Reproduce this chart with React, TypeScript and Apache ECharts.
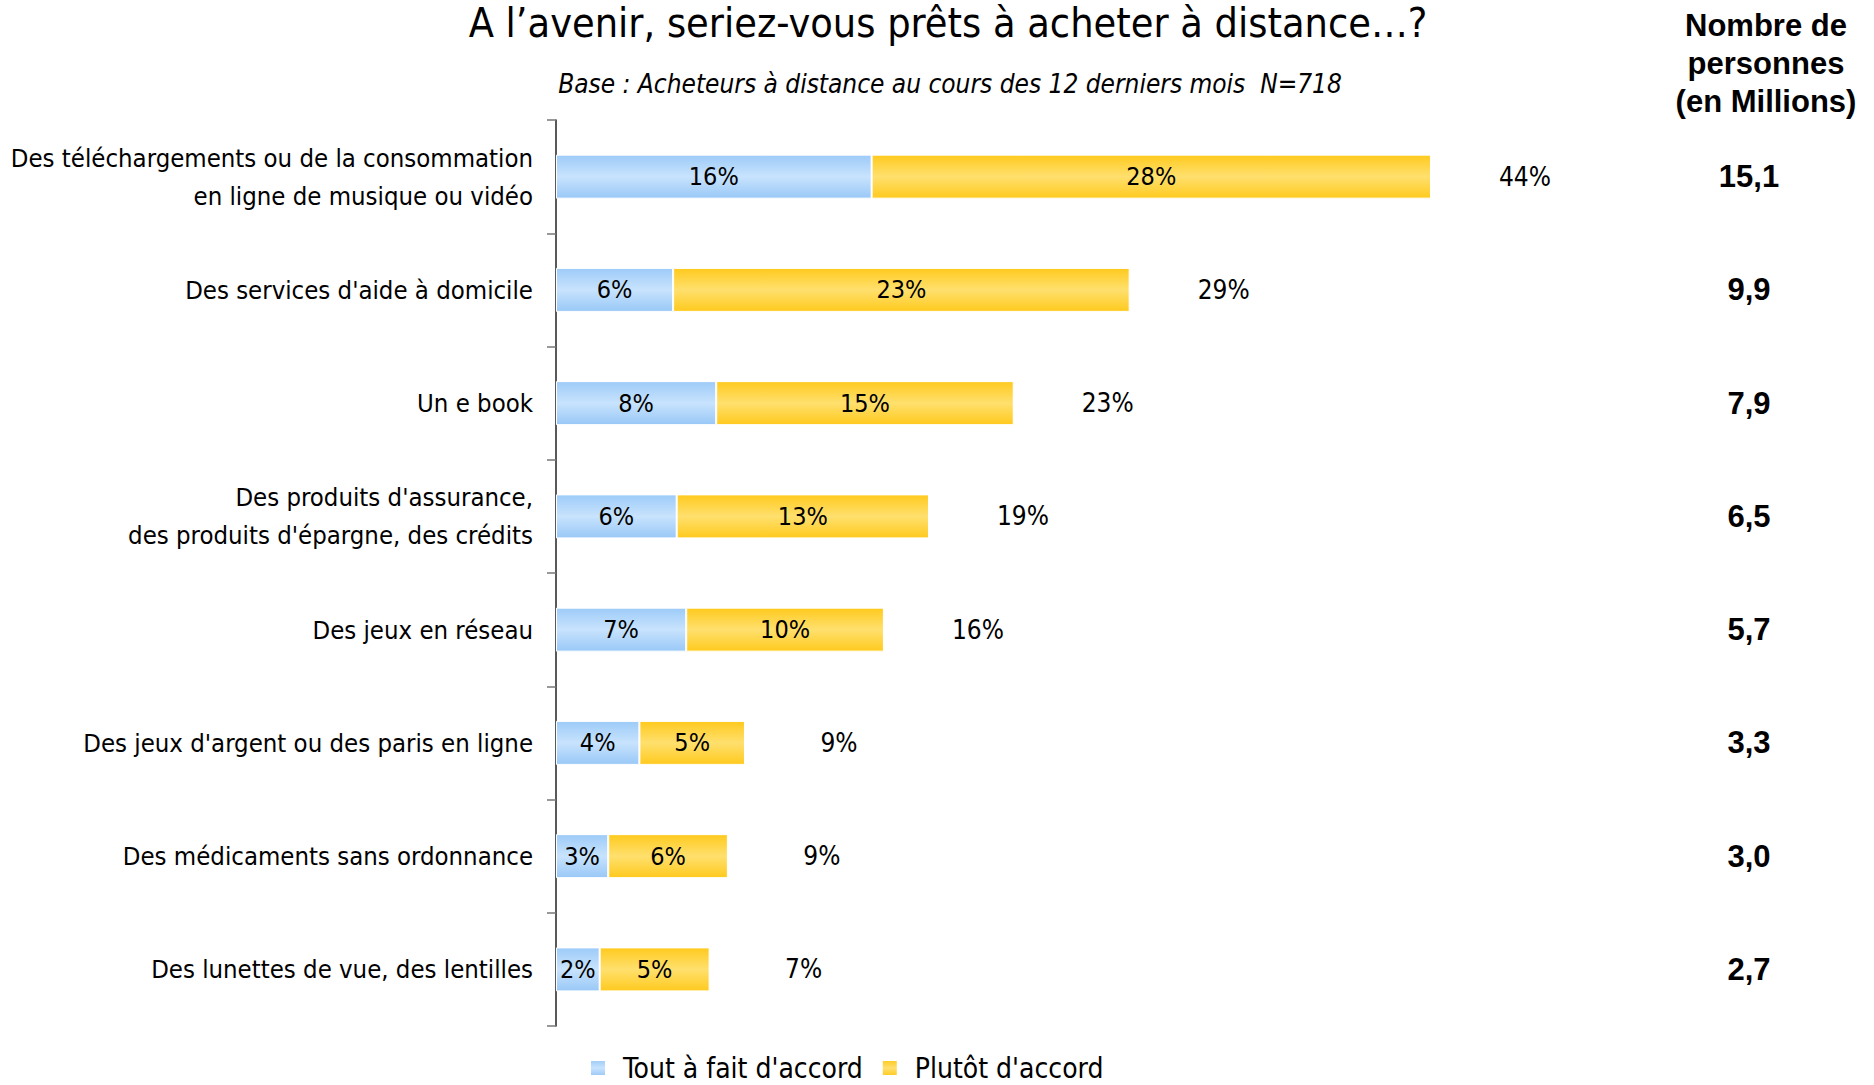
import React, { useEffect, useRef } from "react";
import * as echarts from "echarts";

const categories = [
  "Des téléchargements ou de la consommation\nen ligne de musique ou vidéo",
  "Des services d'aide à domicile",
  "Un e book",
  "Des produits d'assurance,\ndes produits d'épargne, des crédits",
  "Des jeux en réseau",
  "Des jeux d'argent ou des paris en ligne",
  "Des médicaments sans ordonnance",
  "Des lunettes de vue, des lentilles",
];
// Percentages as printed on the chart
const toutAFait = [16, 6, 8, 6, 7, 4, 3, 2];
const plutot = [28, 23, 15, 13, 10, 5, 6, 5];
const totals = [44, 29, 23, 19, 16, 9, 9, 7];
// Bar lengths (in %)
const toutAFaitBar = [15.9, 5.9, 8.07, 6.08, 6.56, 4.2, 2.63, 2.2];
const plutotBar = [28.18, 23.0, 14.99, 12.71, 9.96, 5.32, 6.03, 5.54];
const millions = ["15,1", "9,9", "7,9", "6,5", "5,7", "3,3", "3,0", "2,7"];

const NARROW = "'DejaVu Sans Condensed', 'Liberation Sans Narrow', 'Arial Narrow', sans-serif";
const ARIAL = "'Liberation Sans', Arial, sans-serif";

const blue = new echarts.graphic.LinearGradient(0, 0, 0, 1, [
  { offset: 0, color: "#9dcbf8" },
  { offset: 0.5, color: "#c8e3fd" },
  { offset: 1, color: "#99c8f7" },
]);
const yellow = new echarts.graphic.LinearGradient(0, 0, 0, 1, [
  { offset: 0, color: "#ffca1e" },
  { offset: 0.5, color: "#ffe06e" },
  { offset: 1, color: "#ffca1e" },
]);

export default function App() {
  const ref = useRef<HTMLDivElement>(null);
  useEffect(() => {
    const chart = echarts.init(ref.current!, null, { renderer: "svg" });
    const barLabel = (texts: number[]) => ({
      show: true,
      position: "inside",
      formatter: (p: any) => texts[p.dataIndex] + "%",
      color: "#000",
      fontSize: 25,
      fontFamily: NARROW,
    });
    const stackEnds = toutAFaitBar.map((v, i) => v + plutotBar[i]);
    chart.setOption({
      animation: false,
      backgroundColor: "#fff",
      title: [
        {
          text: "A l’avenir, seriez-vous prêts à acheter à distance…?",
          left: 948,
          top: 2,
          padding: 0,
          textAlign: "center",
          textStyle: { fontSize: 41, lineHeight: 41, fontWeight: "normal", fontFamily: NARROW, color: "#000" },
        },
        {
          text: "Base : Acheteurs à distance au cours des 12 derniers mois  N=718",
          left: 950,
          top: 70,
          padding: 0,
          textAlign: "center",
          textStyle: { fontSize: 26, lineHeight: 28, fontWeight: "normal", fontStyle: "italic", fontFamily: NARROW, color: "#000" },
        },
        {
          text: "Nombre de\npersonnes\n(en Millions)",
          left: 1766,
          top: 6,
          padding: 0,
          textAlign: "center",
          textStyle: { fontSize: 31, fontWeight: "bold", fontFamily: ARIAL, color: "#000", lineHeight: 38 },
        },
      ],
      legend: {
        data: ["Tout à fait d'accord", "Plutôt d'accord"],
        left: 589,
        top: 1054,
        padding: 0,
        icon: "rect",
        itemWidth: 16,
        itemHeight: 16,
        itemGap: 18,
        textStyle: { fontSize: 28, lineHeight: 28, fontFamily: NARROW, color: "#000", padding: [0, 0, 0, 12] },
      },
      grid: { left: 556, right: 127, top: 120, bottom: 59, containLabel: false, outerBoundsMode: "none" },
      xAxis: { type: "value", min: 0, max: 60, show: false },
      yAxis: [
        {
          type: "category",
          data: categories,
          inverse: true,
          axisLine: { show: true, lineStyle: { color: "#222", width: 1.5 } },
          axisTick: { show: true, length: 9, lineStyle: { color: "#777", width: 1.5 } },
          axisLabel: {
            margin: 23,
            fontSize: 25.5,
            lineHeight: 38,
            fontFamily: NARROW,
            color: "#000",
            align: "right",
          },
        },
        {
          type: "category",
          data: millions,
          inverse: true,
          position: "right",
          axisLine: { show: false },
          axisTick: { show: false },
          axisLabel: {
            margin: 2,
            align: "center",
            fontSize: 31,
            fontWeight: "bold",
            fontFamily: ARIAL,
            color: "#000",
          },
        },
      ],
      series: [
        {
          name: "Tout à fait d'accord",
          type: "bar",
          stack: "a",
          data: toutAFaitBar,
          barWidth: 44,
          itemStyle: { color: blue, borderColor: "#fff", borderWidth: 1 },
          label: barLabel(toutAFait),
        },
        {
          name: "Plutôt d'accord",
          type: "bar",
          stack: "a",
          data: plutotBar,
          barWidth: 44,
          itemStyle: { color: yellow, borderColor: "#fff", borderWidth: 1 },
          label: barLabel(plutot),
        },
        {
          name: "Total",
          type: "bar",
          data: stackEnds,
          barWidth: 44,
          barGap: "-100%",
          silent: true,
          z: 1,
          itemStyle: { color: "rgba(0,0,0,0)" },
          label: {
            show: true,
            position: "right",
            align: "center",
            distance: 94,
            formatter: (p: any) => totals[p.dataIndex] + "%",
            color: "#000",
            fontSize: 26,
            fontFamily: NARROW,
          },
        },
      ],
    });
    return () => chart.dispose();
  }, []);
  return (
    <div
      ref={ref}
      style={{ position: "absolute", left: 0, top: 0, width: 1874, height: 1085, background: "#fff" }}
    />
  );
}
